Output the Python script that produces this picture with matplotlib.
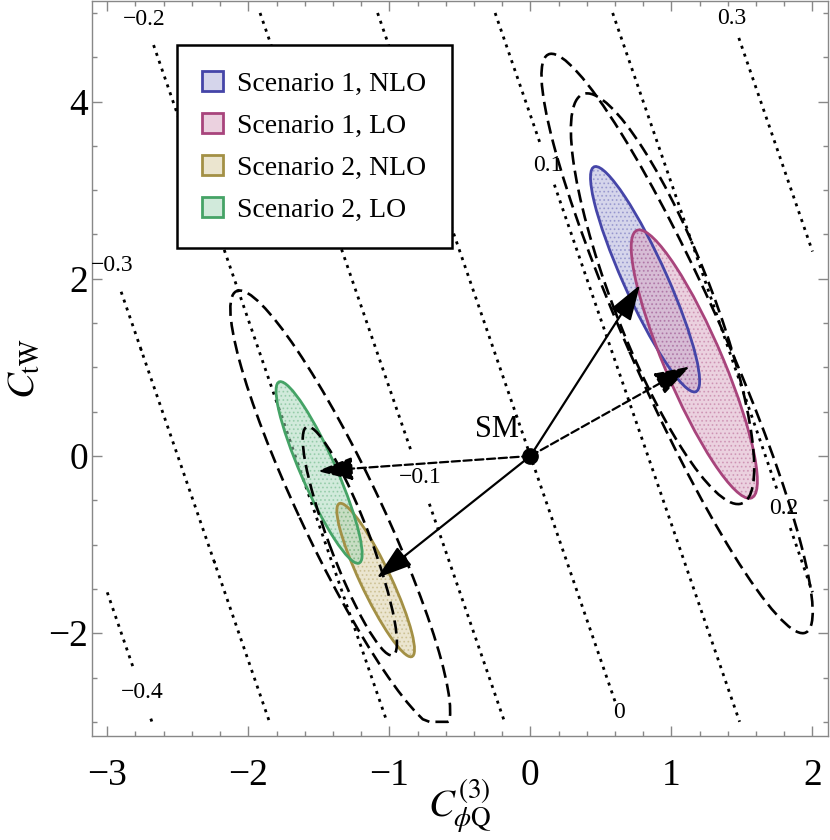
import numpy as np
import matplotlib
matplotlib.use('Agg')
import matplotlib.pyplot as plt
from matplotlib.patches import Ellipse, Patch

plt.rcParams['font.family'] = ['Liberation Serif', 'DejaVu Serif']
plt.rcParams['mathtext.fontset'] = 'stix'
plt.rcParams['hatch.linewidth'] = 0.8

# observable (linear in the two coefficients) -> dotted contours
obs_cx = 0.12
obs_cy = 0.026
obs_levels = [-0.4, -0.3, -0.2, -0.1, 0.0, 0.1, 0.2, 0.3]
obs_label_pos = [(-2.76, -2.675), (-2.945, 2.156), (-2.697, 4.95), (-0.782, -0.248),
                 (0.636, -2.889), (0.124, 3.284), (1.805, -0.587), (1.451, 4.95)]
grid_x = (-3, 2)
grid_y = (-3, 5)

# filled fit regions: centre, semi axes, angle (data space)
fit_names = ['Scenario 1, NLO', 'Scenario 1, LO', 'Scenario 2, NLO', 'Scenario 2, LO']
fit_cx = [0.813, 1.162, -1.097, -1.498]
fit_cy = [1.995, 1.037, -1.40, -0.186]
fit_a = [1.32, 1.565, 0.902, 1.062]
fit_b = [0.160, 0.213, 0.113, 0.130]
fit_ang = [-74.4, -75.3, -73.7, -74.8]
edge_cols = ['#4545a8', '#a8447c', '#a39045', '#45a366']
fill_cols = ['#adadd9', '#d9a5c1', '#d9cda1', '#a5d7b9']

# dashed regions
dash_cx = [1.04, 0.937, -1.348, -1.28]
dash_cy = [1.27, 1.775, -0.61, -0.96]
dash_a = [3.39, 2.38, 2.58, 1.325]
dash_b = [0.35, 0.36, 0.30, 0.15]
dash_ang = [-74.6, -76.7, -73.7, -76.9]

# arrows from the SM point
arrow_x = [0.777, -1.088, 1.13, -1.51]
arrow_y = [1.93, -1.377, 1.01, -0.17]
arrow_ls = ['-', '-', '--', '--']

fig = plt.figure(figsize=(8.3, 8.4), dpi=100)
ax = fig.add_axes([0.1112, 0.1238, 0.8864, 0.875])
ax.set_xlim(-3.106, 2.11)
ax.set_ylim(-3.16, 5.135)

# contours
gx = np.linspace(grid_x[0], grid_x[1], 251)
gy = np.linspace(grid_y[0], grid_y[1], 401)
X, Y = np.meshgrid(gx, gy)
cs = ax.contour(X, Y, obs_cx * X + obs_cy * Y, levels=obs_levels, colors='k', linewidths=2.0)
cs.set_linestyle((0, (1.1, 1.9)))

def fmt(v):
    if abs(v) < 1e-9:
        return '0'
    return ('%.1f' % v).replace('-', '\u2212')

texts = ax.clabel(cs, inline=True, fontsize=17, fmt=fmt, manual=obs_label_pos, inline_spacing=6)
for t in texts:
    t.set_rotation(0)

# filled regions
for i in range(4):
    ax.add_patch(Ellipse((fit_cx[i], fit_cy[i]), 2 * fit_a[i], 2 * fit_b[i], angle=fit_ang[i],
                         facecolor=fill_cols[i], alpha=0.5, edgecolor='none', zorder=2))
    ax.add_patch(Ellipse((fit_cx[i], fit_cy[i]), 2 * fit_a[i], 2 * fit_b[i], angle=fit_ang[i],
                         facecolor='none', edgecolor=edge_cols[i] + '55', lw=0, hatch='....', zorder=2))
    ax.add_patch(Ellipse((fit_cx[i], fit_cy[i]), 2 * fit_a[i], 2 * fit_b[i], angle=fit_ang[i],
                         facecolor='none', edgecolor=edge_cols[i], lw=2, zorder=3))

# dashed regions, cut at the lower edge of the scan (y = -3)
for i in range(4):
    e = Ellipse((dash_cx[i], dash_cy[i]), 2 * dash_a[i], 2 * dash_b[i], angle=dash_ang[i])
    e.set_transform(ax.transData)
    pts = ax.transData.inverted().transform(e.get_verts())
    ax.plot(pts[:, 0], np.maximum(pts[:, 1], grid_y[0]), color='k', lw=1.9,
            dashes=(5.0, 2.3), zorder=4)

# arrows
for i in range(4):
    ax.annotate('', xy=(arrow_x[i], arrow_y[i]), xytext=(0, 0),
                arrowprops=dict(arrowstyle='-|>,head_length=1.1,head_width=0.36', mutation_scale=20,
                                lw=1.6, ls=arrow_ls[i], color='k', shrinkA=0, shrinkB=0),
                zorder=5)
ax.plot([0], [0], 'o', ms=11, color='k', zorder=6)
ax.text(-0.24, 0.295, 'SM', fontsize=22, ha='center', va='center', zorder=6)

# legend
handles = [Patch(facecolor=matplotlib.colors.to_rgba(fill_cols[i], 0.5),
                 edgecolor=edge_cols[i], lw=2) for i in range(4)]
leg = ax.legend(handles, fit_names, loc='upper left', bbox_to_anchor=(0.1147, 0.940),
                fontsize=20, handlelength=0.75, handleheight=0.75, handletextpad=0.5,
                labelspacing=0.58, borderpad=0.92, borderaxespad=0, fancybox=False,
                framealpha=1, edgecolor='k')
leg.get_frame().set_linewidth(1.8)
leg.set_zorder(10)

# axes style
for s in ax.spines.values():
    s.set_color('#888888')
    s.set_linewidth(1)
ax.set_xticks([-3, -2, -1, 0, 1, 2])
ax.set_yticks([-2, 0, 2, 4])
ax.set_xticks(np.arange(-3, 2.01, 0.2), minor=True)
ax.set_yticks(np.arange(-3, 5.01, 0.5), minor=True)
ax.tick_params(which='both', direction='in', top=True, right=True, color='#888888',
               labelsize=27, width=1)
ax.tick_params(which='major', length=7)
ax.tick_params(which='minor', length=3.5)
ax.tick_params(axis='x', which='major', pad=16)
ax.tick_params(axis='y', which='major', pad=3)

ax.set_xlabel(r'$C_{\phi\mathrm{Q}}^{(3)}$', fontsize=28)
ax.set_ylabel(r'$C_{\mathrm{tW}}$', fontsize=28)
ax.xaxis.set_label_coords(0.5, -0.056)
ax.yaxis.set_label_coords(-0.066, 0.5)

fig.savefig('out.png', dpi=100)
